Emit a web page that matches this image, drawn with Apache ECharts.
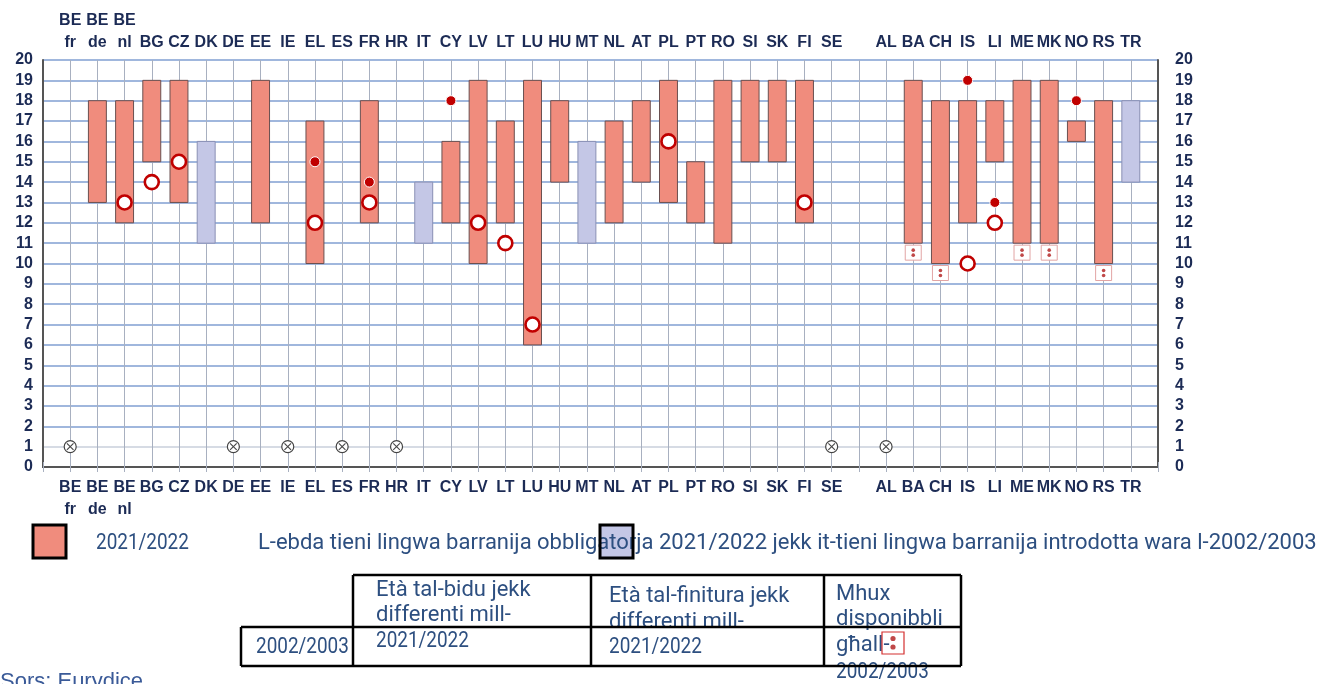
<!DOCTYPE html>
<html>
<head>
<meta charset="utf-8">
<title>Tieni lingwa barranija obbligatorja</title>
<script src="https://cdn.jsdelivr.net/npm/echarts@6/dist/echarts.min.js"></script>
<style>
  html, body { margin: 0; padding: 0; background: #fff; }
  #chart { width: 1325px; height: 684px; }
</style>
</head>
<body>
<div id="chart"></div>
<script>
// pajjiżi (the blank one is the gap between EU and the rest)
const countries = ['BE\nfr', 'BE\nde', 'BE\nnl', 'BG', 'CZ', 'DK', 'DE', 'EE', 'IE', 'EL', 'ES', 'FR', 'HR', 'IT',
  'CY', 'LV', 'LT', 'LU', 'HU', 'MT', 'NL', 'AT', 'PL', 'PT', 'RO', 'SI', 'SK', 'FI', 'SE', ' ',
  'AL', 'BA', 'CH', 'IS', 'LI', 'ME', 'MK', 'NO', 'RS', 'TR']

// 2021/2022 - salmon bars (from age / to age)
const compFrom = [null, 13, 12, 15, 13, null, null, 12, null, 10, null, 12, null, null,
  12, 10, 12, 6, 14, null, 12, 14, 13, 12, 11, 15, 15, 12, null, null,
  null, 11, 10, 12, 15, 11, 11, 16, 10, null]
const compTo = [null, 18, 18, 19, 19, null, null, 19, null, 17, null, 18, null, null,
  16, 19, 17, 19, 18, null, 17, 18, 19, 15, 19, 19, 19, 19, null, null,
  null, 19, 18, 18, 18, 19, 19, 17, 18, null]

// introduced after 2002/2003 - lavender bars
const laterFrom = [null, null, null, null, null, 11, null, null, null, null, null, null, null, 11,
  null, null, null, null, null, 11, null, null, null, null, null, null, null, null, null, null,
  null, null, null, null, null, null, null, null, null, 14]
const laterTo = [null, null, null, null, null, 16, null, null, null, null, null, null, null, 14,
  null, null, null, null, null, 16, null, null, null, null, null, null, null, null, null, null,
  null, null, null, null, null, null, null, null, null, 18]

// 2002/2003 start age if different (open circles)
const start2003 = [null, null, 13, 14, 15, null, null, null, null, 12, null, 13, null, null,
  null, 12, 11, 7, null, null, null, null, 16, null, null, null, null, 13, null, null,
  null, null, null, 10, 12, null, null, null, null, null]
// 2002/2003 end age if different (filled dots)
const end2003 = [null, null, null, null, null, null, null, null, null, 15, null, 14, null, null,
  18, null, null, null, null, null, null, null, null, null, null, null, null, null, null, null,
  null, null, null, 19, 13, null, null, 18, null, null]
// no compulsory second language (⊗)
const noSecond = [1, null, null, null, null, null, 1, null, 1, null, 1, null, 1, null,
  null, null, null, null, null, null, null, null, null, null, null, null, null, null, 1, null,
  1, null, null, null, null, null, null, null, null, null]
// not available for 2002/2003 (:)
const notAvail = [0, 0, 0, 0, 0, 0, 0, 0, 0, 0, 0, 0, 0, 0,
  0, 0, 0, 0, 0, 0, 0, 0, 0, 0, 0, 0, 0, 0, 0, 0,
  0, 1, 1, 0, 0, 1, 1, 0, 1, 0]

const yTicks = [0, 20, 1]

const cats = [''].concat(countries, [''])
const navy = '#1c2b55'
const legendBlue = '#2d4f80'
const legendFont = '22px Roboto'

function rangeData(from, to) {
  const out = []
  from.forEach((v, i) => {
    if (v != null) out.push([i + 1, v, to[i]])
  })
  return out
}
function pointData(arr) {
  const out = []
  arr.forEach((v, i) => {
    if (v != null) out.push([i + 1, v])
  })
  return out
}

function barRenderer(fill, stroke) {
  return function(params, api) {
    const top = api.coord([api.value(0), api.value(2)])
    const bot = api.coord([api.value(0), api.value(1)])
    const w = api.size([1, 0])[0] * 0.66
    return {
      type: 'rect',
      shape: { x: top[0] - w / 2, y: top[1], width: w, height: bot[1] - top[1] },
      style: { fill: fill, stroke: stroke, lineWidth: 1 }
    }
  }
}

// the source font has narrow figures, so the number-only texts are squeezed
function txt(x, y, text, narrow) {
  return { type: 'text', x: x, y: y, z: 10, scaleX: narrow ? 0.86 : 1,
    style: { text: text, fill: legendBlue, font: legendFont, verticalAlign: 'middle' } }
}
function seg(x1, y1, x2, y2) {
  return { type: 'polyline', shape: { points: [[x1, y1], [x2, y2]] },
    style: { stroke: '#000', lineWidth: 2.5 }, z: 11 }
}

const hLineColors = []
for (let v = yTicks[0]; v <= yTicks[1]; v += yTicks[2]) {
  hLineColors.push(v === 1 ? '#c9cfdb' : '#819fd2')
}

const chart = echarts.init(document.getElementById('chart'))

const labelFont = {
  fontFamily: 'Liberation Sans',
  fontWeight: 'bold',
  fontSize: 16,
  color: navy
}

chart.setOption({
  animation: false,
  grid: { left: 43, right: 167, top: 60, bottom: 217 },
  xAxis: [{
    type: 'category',
    data: cats,
    boundaryGap: false,
    position: 'bottom',
    axisLine: { lineStyle: { color: '#555', width: 2 } },
    axisTick: { show: true, length: 5, lineStyle: { color: '#a8b0c0' } },
    axisLabel: Object.assign({ interval: 0, margin: 10, lineHeight: 22 }, labelFont),
    splitLine: { show: true, lineStyle: { color: '#a8b0c0', width: 1 } }
  }, {
    type: 'category',
    data: cats,
    boundaryGap: false,
    position: 'top',
    axisLine: { lineStyle: { color: '#555', width: 2 } },
    axisTick: { show: true, length: 5, lineStyle: { color: '#a8b0c0' } },
    axisLabel: Object.assign({ interval: 0, margin: 6, lineHeight: 22 }, labelFont),
    splitLine: { show: false }
  }],
  yAxis: [{
    type: 'value',
    min: yTicks[0],
    max: yTicks[1],
    interval: yTicks[2],
    position: 'left',
    axisLine: { show: true, lineStyle: { color: '#555', width: 2 } },
    axisTick: { show: false },
    axisLabel: Object.assign({ margin: 10 }, labelFont),
    splitLine: { show: true, lineStyle: { color: hLineColors, width: 1.6 } }
  }, {
    type: 'value',
    min: yTicks[0],
    max: yTicks[1],
    interval: yTicks[2],
    position: 'right',
    axisLine: { show: true, lineStyle: { color: '#555', width: 2 } },
    axisTick: { show: false },
    axisLabel: Object.assign({ margin: 17, align: 'left' }, labelFont),
    splitLine: { show: false }
  }],
  series: [{
    name: '2021/2022',
    type: 'custom',
    renderItem: barRenderer('#f08c7d', '#6a5050'),
    data: rangeData(compFrom, compTo),
    z: 3
  }, {
    name: 'L-ebda tieni lingwa barranija obbligatorja 2021/2022',
    type: 'custom',
    renderItem: barRenderer('#c4c7e6', '#8a90b4'),
    data: rangeData(laterFrom, laterTo),
    z: 3
  }, {
    name: 'Mhux disponibbli',
    type: 'custom',
    renderItem: function(params, api) {
      const p = api.coord([api.value(0), api.value(1)])
      return {
        type: 'group',
        children: [{
          type: 'rect',
          shape: { x: p[0] - 8, y: p[1] + 2, width: 16, height: 15 },
          style: { fill: '#fff', stroke: '#e2a4a4', lineWidth: 1 }
        }, {
          type: 'circle',
          shape: { cx: p[0], cy: p[1] + 7, r: 1.8 },
          style: { fill: '#c04848' }
        }, {
          type: 'circle',
          shape: { cx: p[0], cy: p[1] + 12, r: 1.8 },
          style: { fill: '#c04848' }
        }]
      }
    },
    data: notAvail.map((f, i) => f ? [i + 1, compFrom[i]] : null).filter(d => d),
    z: 4
  }, {
    name: 'Ebda',
    type: 'custom',
    renderItem: function(params, api) {
      const p = api.coord([api.value(0), api.value(1)])
      const d = 3.3
      return {
        type: 'group',
        children: [{
          type: 'circle',
          shape: { cx: p[0], cy: p[1], r: 6 },
          style: { fill: '#fff', stroke: '#444', lineWidth: 1.2 }
        }, {
          type: 'line',
          shape: { x1: p[0] - d, y1: p[1] - d, x2: p[0] + d, y2: p[1] + d },
          style: { stroke: '#444', lineWidth: 1.1 }
        }, {
          type: 'line',
          shape: { x1: p[0] - d, y1: p[1] + d, x2: p[0] + d, y2: p[1] - d },
          style: { stroke: '#444', lineWidth: 1.1 }
        }]
      }
    },
    data: pointData(noSecond),
    z: 4
  }, {
    name: 'Età tal-bidu 2002/2003',
    type: 'scatter',
    symbol: 'circle',
    symbolSize: 14,
    itemStyle: { color: '#fff', borderColor: '#c00000', borderWidth: 2.6, opacity: 1 },
    data: pointData(start2003),
    z: 5
  }, {
    name: 'Età tal-finitura 2002/2003',
    type: 'scatter',
    symbol: 'circle',
    symbolSize: 10,
    itemStyle: { color: '#c00000', borderColor: '#fff', borderWidth: 1, opacity: 1 },
    data: pointData(end2003),
    z: 5
  }],
  graphic: [
    // legend row
    { type: 'rect', x: 33, y: 525, shape: { width: 33, height: 33 },
      style: { fill: '#f08c7d', stroke: '#000', lineWidth: 3 }, z: 10 },
    txt(96, 543, '2021/2022', true),
    { type: 'rect', x: 600, y: 525, shape: { width: 33, height: 33 },
      style: { fill: '#c4c7e6', stroke: null }, z: 9 },
    txt(258, 543, 'L-ebda tieni lingwa barranija obbligatorja 2021/2022 jekk it-tieni lingwa barranija introdotta wara l-2002/2003'),
    { type: 'rect', x: 600, y: 525, shape: { width: 33, height: 33 },
      style: { fill: null, stroke: '#000', lineWidth: 3 }, z: 11 },

    // table lines
    seg(353, 575, 961, 575),
    seg(241, 627, 961, 627),
    seg(241, 666, 961, 666),
    seg(241, 627, 241, 666),
    seg(353, 575, 353, 666),
    seg(591, 575, 591, 666),
    seg(824, 575, 824, 666),
    seg(961, 575, 961, 666),

    // table texts
    txt(256, 647, '2002/2003', true),
    txt(376, 590, 'Età tal-bidu jekk'),
    txt(376, 615, 'differenti mill-'),
    txt(376, 641, '2021/2022', true),
    txt(609, 596, 'Età tal-finitura jekk'),
    txt(609, 622, 'differenti mill-'),
    txt(609, 647, '2021/2022', true),
    txt(836, 594, 'Mhux'),
    txt(836, 619, 'disponibbli'),
    txt(836, 645, 'għall-'),
    txt(836, 672, '2002/2003', true),
    { type: 'rect', x: 882, y: 632, shape: { width: 22, height: 22 }, style: { fill: null, stroke: '#d43030', lineWidth: 1.2 }, z: 12 },
    { type: 'circle', shape: { cx: 893, cy: 638.5, r: 2.6 }, style: { fill: '#c04848' }, z: 12 },
    { type: 'circle', shape: { cx: 893, cy: 647, r: 2.6 }, style: { fill: '#c04848' }, z: 12 },

    // source
    { type: 'text', x: 0, y: 671, style: { text: 'Sors: Eurydice', fill: '#3a5a98', font: '22px "Liberation Sans"', verticalAlign: 'top' }, z: 10 }
  ]
})
</script>
</body>
</html>
